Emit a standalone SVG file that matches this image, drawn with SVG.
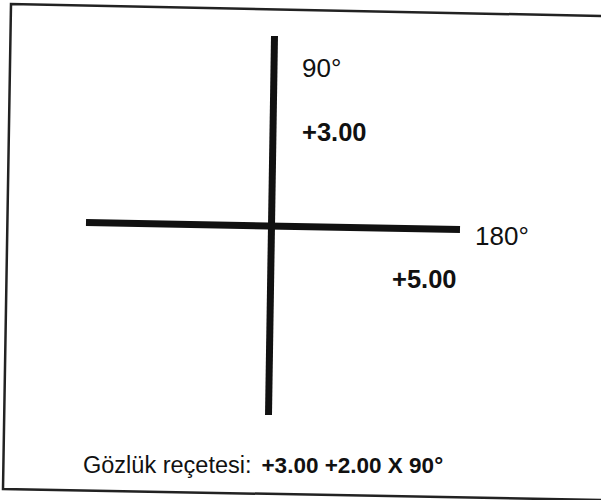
<svg xmlns="http://www.w3.org/2000/svg" width="601" height="500" viewBox="0 0 601 500">
<style>
.t{font-family:"Liberation Sans",Arial,sans-serif;fill:#111}
.r{font-size:26px}
.b{font-size:25.5px;font-weight:bold}
.ax{stroke:#111;stroke-width:7;stroke-linecap:butt}
.frame{fill:none;stroke:#222;stroke-width:2.5}
</style>
<rect width="601" height="500" fill="#fff"/>
<polyline class="frame" points="602,16 11,4 3,489 602,500"/>
<g id="axes">
<line id="vertical" class="ax" x1="274.5" y1="36" x2="268.5" y2="415"/>
<line id="horizontal" class="ax" x1="86" y1="222.5" x2="460" y2="229.5"/>
</g>
<g id="labels">
<text class="t r" x="302" y="77">90°</text>
<text class="t b" x="302" y="141">+3.00</text>
<text class="t r" x="475" y="245">180°</text>
<text class="t b" x="392" y="288">+5.00</text>
<text class="t" x="83" y="473" font-size="23.5px">Gözlük reçetesi:<tspan font-weight="bold" font-size="22.5px" dx="10">+3.00 +2.00 X 90°</tspan></text>
</g>
</svg>
